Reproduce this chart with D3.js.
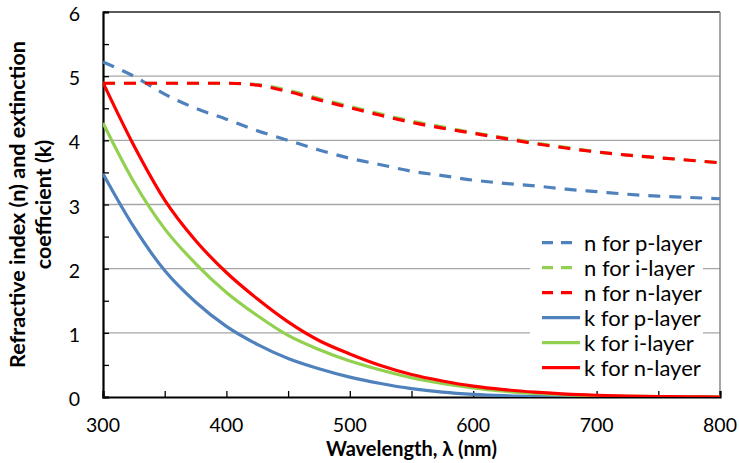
<!DOCTYPE html>
<html>
<head>
<meta charset="utf-8">
<script src="https://cdn.jsdelivr.net/npm/d3@7"></script>
<style>
  body { margin: 0; background: #fff; }
  svg { display: block; }
  text { font-family: Lato, "Open Sans", sans-serif; fill: #000; }
</style>
</head>
<body>
<svg id="chart" width="739" height="463"></svg>
<script>
// ---- data ----
const wavelengths = [300,325,350,375,400,425,450,475,500,525,550,575,600,625,650,675,700,725,750,775,800];
const nP = [5.22,5.00,4.72,4.50,4.33,4.15,4.00,3.85,3.72,3.62,3.52,3.45,3.38,3.33,3.29,3.24,3.20,3.16,3.13,3.11,3.09];
const nI = [4.89,4.89,4.89,4.89,4.89,4.87,4.78,4.65,4.53,4.41,4.30,4.21,4.12,4.04,3.96,3.89,3.82,3.77,3.73,3.69,3.65];
const nN = [4.89,4.89,4.89,4.89,4.89,4.86,4.76,4.63,4.51,4.39,4.28,4.19,4.11,4.03,3.95,3.88,3.82,3.77,3.73,3.69,3.65];
const kP = [3.48,2.65,1.97,1.48,1.10,0.82,0.60,0.44,0.31,0.21,0.13,0.075,0.04,0.02,0.01,0.005,0.002,0.001,0,0,0];
const kI = [4.27,3.35,2.62,2.08,1.63,1.27,0.96,0.74,0.56,0.42,0.30,0.21,0.14,0.09,0.055,0.033,0.019,0.01,0.005,0.002,0];
const kN = [4.90,3.92,3.07,2.44,1.94,1.53,1.17,0.88,0.67,0.49,0.35,0.25,0.17,0.115,0.075,0.045,0.027,0.015,0.008,0.003,0];
const seriesNames = ["n for p-layer","n for i-layer","n for n-layer","k for p-layer","k for i-layer","k for n-layer"];
const seriesValues = [nP, nI, nN, kP, kI, kN];
const seriesColors = ["#4F81BD","#92D050","#FF0000","#4F81BD","#92D050","#FF0000"];
const seriesDashed = [true,true,true,false,false,false];
const xTicks = [300,400,500,600,700,800];
const yTicks = [0,1,2,3,4,5,6];
const xTitle = "Wavelength, λ (nm)";
const yTitleLines = ["Refractive index (n) and extinction","coefficient (k)"];

// ---- layout ----
const svg = d3.select("#chart");
const L = 103, R = 720, T = 12, B = 397;
const x = d3.scaleLinear().domain([300,800]).range([L,R]);
const y = d3.scaleLinear().domain([0,6]).range([B,T]);

// gridlines
svg.append("g").selectAll("line").data(yTicks.filter(v => v>0 && v<6)).join("line")
  .attr("x1",L).attr("x2",R).attr("y1",d=>y(d)).attr("y2",d=>y(d))
  .attr("stroke","#A6A6A6").attr("stroke-width",1.3);

// frame: top and right
svg.append("line").attr("x1",L).attr("x2",R).attr("y1",T).attr("y2",T).attr("stroke","#222").attr("stroke-width",1.5);
svg.append("line").attr("x1",R).attr("x2",R).attr("y1",T).attr("y2",B).attr("stroke","#888").attr("stroke-width",1.5);

// axes with inward ticks
const yAxis = d3.axisLeft(y).tickValues(d3.range(0,6.01,0.5)).tickSize(-6).tickFormat("");
const gy = svg.append("g").attr("transform",`translate(${L},0)`).call(yAxis);
gy.select(".domain").attr("stroke","#000").attr("stroke-width",2.2);
gy.selectAll(".tick line").attr("stroke","#000").attr("stroke-width",1.3);

const xAxis = d3.axisBottom(x).tickValues(d3.range(300,801,50)).tickSize(-6).tickFormat("");
const gx = svg.append("g").attr("transform",`translate(0,${B})`).call(xAxis);
gx.select(".domain").attr("stroke","#000").attr("stroke-width",2.2);
gx.selectAll(".tick line").attr("stroke","#000").attr("stroke-width",1.3);

// tick labels
svg.append("g").selectAll("text").data(yTicks).join("text")
  .attr("x",80).attr("y",d=>y(d)+2).attr("dy","0.36em").attr("text-anchor","end")
  .attr("font-size",19.5).text(d=>d);
svg.append("g").selectAll("text").data(xTicks).join("text")
  .attr("x",d=>x(d)).attr("y",432).attr("text-anchor","middle")
  .attr("font-size",19.5).text(d=>d);

// titles
svg.append("text").attr("x",(L+R)/2).attr("y",456).attr("text-anchor","middle")
  .attr("font-size",20).attr("font-weight","bold").text(xTitle);
svg.append("g").attr("transform",`translate(0,${(T+B)/2}) rotate(-90)`)
  .selectAll("text").data(yTitleLines).join("text")
  .attr("x",0).attr("y",(d,i)=>25+i*26).attr("text-anchor","middle")
  .attr("font-size",21.5).attr("font-weight","bold").text(d=>d);

// lines
const line = d3.line().curve(d3.curveMonotoneX).x(d=>x(d[0])).y(d=>y(d[1]));
svg.append("clipPath").attr("id","clip").append("rect")
  .attr("x",L).attr("y",T-3).attr("width",R-L+3).attr("height",B-T+3);
const order = [0,1,2,3,4,5];
svg.append("g").attr("clip-path","url(#clip)").selectAll("path").data(order).join("path")
  .attr("d",i=>line(wavelengths.map((w,j)=>[w,seriesValues[i][j]])))
  .attr("fill","none").attr("stroke",i=>seriesColors[i]).attr("stroke-width",3.2)
  .attr("stroke-dasharray",i=>seriesDashed[i]?"12,9":null);

// legend
const lg = svg.append("g");
lg.append("rect").attr("x",530).attr("y",229).attr("width",173).attr("height",152).attr("fill","#fff");
const items = lg.selectAll("g").data(order).join("g")
  .attr("transform",(d,i)=>`translate(0,${242.7+i*25})`);
items.append("line").attr("x1",542).attr("x2",580).attr("y1",0).attr("y2",0)
  .attr("stroke",i=>seriesColors[i]).attr("stroke-width",3.2)
  .attr("stroke-dasharray",i=>seriesDashed[i]?"11,8":null);
items.append("text").attr("x",584).attr("y",0).attr("dy","0.36em")
  .attr("font-size",22).text(i=>seriesNames[i]);
</script>
</body>
</html>
